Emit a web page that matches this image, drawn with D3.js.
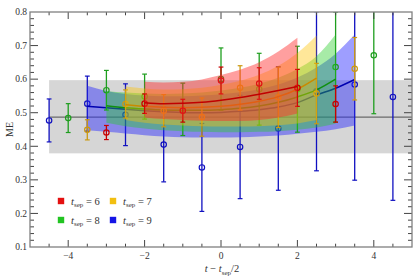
<!DOCTYPE html>
<html>
<head>
<meta charset="utf-8">
<script src="https://cdn.jsdelivr.net/npm/d3@7"></script>
<style>
  body { margin: 0; background: #fff; }
  svg { display: block; font-family: "Liberation Serif", "DejaVu Serif", serif; }
</style>
</head>
<body>
<svg id="chart"></svg>
<script>
// data points: x = t - tsep/2
const x6 = [-3, -2, -1, 0, 1, 2, 3];
const me6 = [0.441, 0.527, 0.506, 0.596, 0.587, 0.574, 0.526];
const err6 = [0.021, 0.029, 0.034, 0.040, 0.047, 0.055, 0.054];

const x7 = [-3.5, -2.5, -1.5, -0.5, 0.5, 1.5, 2.5, 3.5];
const me7 = [0.449, 0.526, 0.506, 0.487, 0.574, 0.546, 0.557, 0.631];
const err7 = [0.030, 0.042, 0.048, 0.057, 0.066, 0.090, 0.090, 0.093];

const x8 = [-4, -3, -2, -1, 0, 1, 2, 3, 4];
const me8 = [0.484, 0.567, 0.548, 0.510, 0.600, 0.570, 0.570, 0.636, 0.671];
const err8 = [0.043, 0.059, 0.067, 0.078, 0.093, 0.107, 0.128, 0.164, 0.174];

const x9 = [-4.5, -3.5, -2.5, -1.5, -0.5, 0.5, 1.5, 2.5, 3.5, 4.5];
const me9 = [0.477, 0.527, 0.494, 0.405, 0.337, 0.398, 0.453, 0.564, 0.584, 0.547];
const err9 = [0.064, 0.082, 0.092, 0.111, 0.131, 0.154, 0.184, 0.237, 0.285, 0.308];

// fit curves and error bands
const fitX6 = [-2, -1.5, -1, -0.5, 0, 0.5, 1, 1.5, 2];
const fitMid6 = [0.530, 0.527, 0.528, 0.531, 0.537, 0.545, 0.555, 0.566, 0.578];
const fitHi6 = [0.592, 0.590, 0.592, 0.599, 0.612, 0.628, 0.650, 0.682, 0.723];
const fitLo6 = [0.486, 0.481, 0.478, 0.476, 0.475, 0.475, 0.478, 0.486, 0.498];

const fitX7 = [-2.5, -2, -1.5, -1, -0.5, 0, 0.5, 1, 1.5, 2, 2.5];
const fitMid7 = [0.524, 0.519, 0.516, 0.515, 0.516, 0.519, 0.525, 0.534, 0.548, 0.570, 0.603];
const fitHi7 = [0.578, 0.572, 0.569, 0.570, 0.574, 0.583, 0.595, 0.613, 0.640, 0.678, 0.730];
const fitLo7 = [0.478, 0.470, 0.465, 0.462, 0.460, 0.459, 0.459, 0.460, 0.463, 0.468, 0.478];

const fitX8 = [-3, -2.5, -2, -1.5, -1, -0.5, 0, 0.5, 1, 1.5, 2, 2.5, 3];
const fitMid8 = [0.521, 0.515, 0.511, 0.508, 0.507, 0.507, 0.509, 0.513, 0.520, 0.531, 0.547, 0.568, 0.600];
const fitHi8 = [0.565, 0.560, 0.557, 0.556, 0.557, 0.560, 0.566, 0.574, 0.586, 0.604, 0.630, 0.668, 0.733];
const fitLo8 = [0.470, 0.460, 0.453, 0.448, 0.445, 0.443, 0.442, 0.442, 0.443, 0.445, 0.449, 0.456, 0.467];

const fitX9 = [-3.5, -3, -2.5, -2, -1.5, -1, -0.5, 0, 0.5, 1, 1.5, 2, 2.5, 3, 3.5];
const fitMid9 = [0.519, 0.515, 0.510, 0.506, 0.503, 0.501, 0.500, 0.501, 0.504, 0.509, 0.517, 0.530, 0.553, 0.573, 0.599];
const fitHi9 = [0.580, 0.565, 0.556, 0.551, 0.549, 0.549, 0.551, 0.555, 0.561, 0.570, 0.584, 0.605, 0.635, 0.676, 0.733];
const fitLo9 = [0.448, 0.443, 0.438, 0.433, 0.429, 0.427, 0.426, 0.426, 0.427, 0.429, 0.432, 0.437, 0.443, 0.451, 0.462];

// constant fit (gray)
const constX = [-4.5, 5];
const constVal = [0.487];
const constLo = [0.379];
const constHi = [0.597];

const tsepLabels = ["6", "7", "8", "9"];
const xTickLabels = [-4, -2, 0, 2, 4];
const yTickLabels = [0.1, 0.2, 0.3, 0.4, 0.5, 0.6, 0.7, 0.8];

const W = 415, H = 278;
const margins = {left: 30, right: 3, top: 12, bottom: 31};

const svg = d3.select("#chart").attr("width", W).attr("height", H);

const xScale = d3.scaleLinear().domain([-5, 5]).range([margins.left, W - margins.right]);
const yScale = d3.scaleLinear().domain([0.1, 0.8]).range([H - margins.bottom, margins.top]);

const series = [
  {x: x6, me: me6, err: err6, fx: fitX6, mid: fitMid6, lo: fitLo6, hi: fitHi6,
   pt: "#c80000", line: "#c00000", band: "#ff2a2a", bop: 0.45, key: "#e41010"},
  {x: x7, me: me7, err: err7, fx: fitX7, mid: fitMid7, lo: fitLo7, hi: fitHi7,
   pt: "#cc9a10", line: "#c98a00", band: "#ffc400", bop: 0.4, key: "#f2bf10"},
  {x: x8, me: me8, err: err8, fx: fitX8, mid: fitMid8, lo: fitLo8, hi: fitHi8,
   pt: "#1e9e1e", line: "#109010", band: "#22cc22", bop: 0.4, key: "#22c422"},
  {x: x9, me: me9, err: err9, fx: fitX9, mid: fitMid9, lo: fitLo9, hi: fitHi9,
   pt: "#1010c0", line: "#0000b0", band: "#2828ff", bop: 0.45, key: "#1414e6"}
];

svg.append("defs").append("clipPath").attr("id", "plotclip")
  .append("rect")
  .attr("x", xScale(-5)).attr("y", yScale(0.8))
  .attr("width", xScale(5) - xScale(-5))
  .attr("height", yScale(0.1) - yScale(0.8));

const plot = svg.append("g").attr("clip-path", "url(#plotclip)");

// gray constant band + line
plot.append("rect")
  .attr("x", xScale(constX[0]))
  .attr("y", yScale(constHi[0]))
  .attr("width", xScale(constX[1]) - xScale(constX[0]))
  .attr("height", yScale(constLo[0]) - yScale(constHi[0]))
  .attr("fill", "#d6d6d6");

plot.append("line")
  .attr("x1", xScale(constX[0])).attr("x2", xScale(constX[1]))
  .attr("y1", yScale(constVal[0])).attr("y2", yScale(constVal[0]))
  .attr("stroke", "#6a6a6a").attr("stroke-width", 1.4);

const area = d3.area()
  .x(d => xScale(d.x)).y0(d => yScale(d.lo)).y1(d => yScale(d.hi))
  .curve(d3.curveMonotoneX);
const line = d3.line()
  .x(d => xScale(d.x)).y(d => yScale(d.m))
  .curve(d3.curveMonotoneX);

// layers: tsep=9 first, tsep=6 on top; each layer = points, band, fit line
series.slice().reverse().forEach(function(s){
  const g = plot.append("g");
  const pts = s.x.map((d, i) => ({x: d, y: s.me[i], e: s.err[i]}));
  g.selectAll(".eb").data(pts).enter().append("line")
    .attr("x1", d => xScale(d.x)).attr("x2", d => xScale(d.x))
    .attr("y1", d => yScale(d.y - d.e)).attr("y2", d => yScale(d.y + d.e))
    .attr("stroke", s.pt).attr("stroke-width", 1.3);
  [-1, 1].forEach(function(sign){
    g.selectAll(".cap" + sign).data(pts).enter().append("line")
      .attr("x1", d => xScale(d.x) - 2.4).attr("x2", d => xScale(d.x) + 2.4)
      .attr("y1", d => yScale(d.y + sign * d.e)).attr("y2", d => yScale(d.y + sign * d.e))
      .attr("stroke", s.pt).attr("stroke-width", 1.2);
  });
  g.selectAll("circle").data(pts).enter().append("circle")
    .attr("cx", d => xScale(d.x)).attr("cy", d => yScale(d.y))
    .attr("r", 2.7)
    .attr("fill", "none")
    .attr("stroke", s.pt).attr("stroke-width", 1.2);

  const fd = s.fx.map((d, i) => ({x: d, m: s.mid[i], lo: s.lo[i], hi: s.hi[i]}));
  g.append("path").datum(fd)
    .attr("d", area)
    .attr("fill", s.band).attr("fill-opacity", s.bop);
  g.append("path").datum(fd)
    .attr("d", line)
    .attr("fill", "none")
    .attr("stroke", s.line).attr("stroke-width", 1.5);
});

// frame and ticks (Mathematica style: inward ticks on all sides)
const frameCol = "#808080";
const tickCol = "#444";
const xMinor = d3.range(-4.5, 5.01, 0.5);
const yMinor = d3.range(0.12, 0.8, 0.02).map(v => Math.round(v * 100) / 100);

function isMajorX(v){ return Math.abs(v % 2) < 1e-6; }
function isMajorY(v){ return Math.abs(Math.round(v * 10) - v * 10) < 1e-6; }

const ticks = svg.append("g");
xMinor.forEach(function(v){
  if (v >= 5) return;
  const len = isMajorX(v) ? 7 : 3.3;
  ticks.append("line").attr("x1", xScale(v)).attr("x2", xScale(v))
    .attr("y1", yScale(0.1)).attr("y2", yScale(0.1) - len)
    .attr("stroke", tickCol).attr("stroke-width", 1);
  ticks.append("line").attr("x1", xScale(v)).attr("x2", xScale(v))
    .attr("y1", yScale(0.8)).attr("y2", yScale(0.8) + len)
    .attr("stroke", tickCol).attr("stroke-width", 1);
});
yMinor.forEach(function(v){
  const len = isMajorY(v) ? 8 : 4;
  ticks.append("line").attr("x1", xScale(-5)).attr("x2", xScale(-5) + len)
    .attr("y1", yScale(v)).attr("y2", yScale(v))
    .attr("stroke", tickCol).attr("stroke-width", 1);
  ticks.append("line").attr("x1", xScale(5)).attr("x2", xScale(5) - len)
    .attr("y1", yScale(v)).attr("y2", yScale(v))
    .attr("stroke", tickCol).attr("stroke-width", 1);
});

svg.append("rect")
  .attr("x", xScale(-5)).attr("y", yScale(0.8))
  .attr("width", xScale(5) - xScale(-5))
  .attr("height", yScale(0.1) - yScale(0.8))
  .attr("fill", "none").attr("stroke", frameCol).attr("stroke-width", 1.3);

// tick labels
svg.append("g").selectAll("text").data(yTickLabels).enter().append("text")
  .attr("x", xScale(-5) - 3).attr("y", d => yScale(d) + 3.3)
  .attr("text-anchor", "end")
  .attr("font-size", 9.5).attr("fill", "#333")
  .text(d => d3.format(".1f")(d));

svg.append("g").selectAll("text").data(xTickLabels).enter().append("text")
  .attr("x", d => xScale(d)).attr("y", yScale(0.1) + 11.5)
  .attr("text-anchor", "middle")
  .attr("font-size", 9.5).attr("fill", "#333")
  .text(d => d3.format("d")(d));

// axis titles
svg.append("text")
  .attr("transform", "translate(" + 12.5 + "," + ((yScale(0.1) + yScale(0.8)) / 2) + ") rotate(-90)")
  .attr("text-anchor", "middle")
  .attr("font-size", 10).attr("fill", "#333")
  .text("ME");

const xt = svg.append("text")
  .attr("x", (xScale(-5) + xScale(5)) / 2 + 1).attr("y", 272)
  .attr("text-anchor", "middle")
  .attr("font-size", 10.5).attr("fill", "#333");
xt.append("tspan").attr("font-style", "italic").text("t");
xt.append("tspan").text(" \u2212 ");
xt.append("tspan").attr("font-style", "italic").text("t");
xt.append("tspan").attr("font-size", 7).attr("dy", 2.5).text("sep");
xt.append("tspan").attr("dy", -2.5).text("/2");

// legend
const legPos = [[61, 201], [113, 201], [61, 220], [113, 220]];
series.forEach(function(s, i){
  const p = legPos[i];
  svg.append("rect")
    .attr("x", p[0] - 3.2).attr("y", p[1] - 3.2)
    .attr("width", 6.4).attr("height", 6.4)
    .attr("fill", s.key);
  const t = svg.append("text")
    .attr("x", p[0] + 10).attr("y", p[1] + 3.5)
    .attr("font-size", 10.5).attr("fill", "#333");
  t.append("tspan").attr("font-style", "italic").text("t");
  t.append("tspan").attr("font-size", 7).attr("dy", 2.5).text("sep");
  t.append("tspan").attr("dy", -2.5).text(" = " + tsepLabels[i]);
});
</script>
</body>
</html>
